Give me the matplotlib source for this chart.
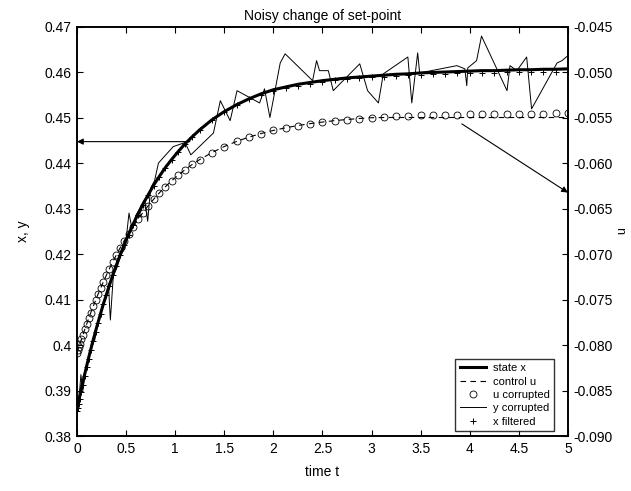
import matplotlib
matplotlib.use('Agg')
import matplotlib.pyplot as plt

plt.rcParams['font.family'] = ['Liberation Sans', 'DejaVu Sans']

# common solver time grid
t = [0.000, 0.010, 0.020, 0.030, 0.045, 0.060, 0.080, 0.100, 0.120, 0.140,
     0.165, 0.190, 0.215, 0.240, 0.270, 0.300, 0.330, 0.365, 0.400, 0.440,
     0.480, 0.525, 0.570, 0.620, 0.670, 0.725, 0.780, 0.840, 0.900, 0.965,
     1.030, 1.100, 1.175, 1.250, 1.375, 1.500, 1.625, 1.750, 1.875, 2.000,
     2.125, 2.250, 2.375, 2.500, 2.625, 2.750, 2.875, 3.000, 3.125, 3.250,
     3.375, 3.500, 3.625, 3.750, 3.875, 4.000, 4.125, 4.250, 4.375, 4.500,
     4.625, 4.750, 4.875, 5.000]

# state x (left axis)
x_state = [0.3860, 0.3870, 0.3880, 0.3890, 0.3905, 0.3919, 0.3937, 0.3955, 0.3973, 0.3990,
           0.4011, 0.4031, 0.4050, 0.4069, 0.4091, 0.4111, 0.4131, 0.4154, 0.4175, 0.4198,
           0.4220, 0.4243, 0.4265, 0.4287, 0.4309, 0.4330, 0.4351, 0.4371, 0.4390, 0.4408,
           0.4425, 0.4442, 0.4458, 0.4473, 0.4495, 0.4513, 0.4528, 0.4541, 0.4552, 0.4561,
           0.4567, 0.4573, 0.4577, 0.4581, 0.4584, 0.4587, 0.4589, 0.4591, 0.4593, 0.4595,
           0.4596, 0.4598, 0.4599, 0.4600, 0.4601, 0.4602, 0.4603, 0.4603, 0.4604, 0.4605,
           0.4605, 0.4606, 0.4606, 0.4607]

# filtered x (left axis)
x_filt = [0.3855, 0.3862, 0.3871, 0.3881, 0.3897, 0.3913, 0.3932, 0.3951, 0.3970, 0.3988,
          0.4009, 0.4029, 0.4049, 0.4068, 0.4090, 0.4110, 0.4130, 0.4153, 0.4174, 0.4197,
          0.4219, 0.4242, 0.4264, 0.4286, 0.4308, 0.4329, 0.4350, 0.4370, 0.4389, 0.4407,
          0.4424, 0.4441, 0.4457, 0.4472, 0.4494, 0.4512, 0.4527, 0.4540, 0.4550, 0.4559,
          0.4565, 0.4570, 0.4574, 0.4579, 0.4582, 0.4585, 0.4587, 0.4589, 0.4590, 0.4592,
          0.4593, 0.4594, 0.4595, 0.4596, 0.4597, 0.4597, 0.4598, 0.4598, 0.4599, 0.4599,
          0.4600, 0.4600, 0.4600, 0.4601]

# corrupted u (right axis)
u_corr = [-0.08090, -0.08056, -0.08022, -0.07988, -0.07939, -0.07890, -0.07827, -0.07766, -0.07706, -0.07647,
          -0.07576, -0.07508, -0.07441, -0.07377, -0.07303, -0.07231, -0.07162, -0.07085, -0.07012, -0.06932,
          -0.06856, -0.06776, -0.06700, -0.06620, -0.06546, -0.06470, -0.06399, -0.06327, -0.06261, -0.06194,
          -0.06134, -0.06074, -0.06015, -0.05962, -0.05885, -0.05819, -0.05763, -0.05716, -0.05676, -0.05642,
          -0.05613, -0.05588, -0.05567, -0.05550, -0.05534, -0.05522, -0.05511, -0.05502, -0.05494, -0.05487,
          -0.05482, -0.05477, -0.05473, -0.05470, -0.05467, -0.05464, -0.05462, -0.05460, -0.05459, -0.05458,
          -0.05457, -0.05456, -0.05455, -0.05455]

# control u (right axis)
u_ctrl = [-0.08090, -0.08056, -0.08022, -0.07988, -0.07939, -0.07890, -0.07827, -0.07766, -0.07706, -0.07647,
          -0.07576, -0.07508, -0.07441, -0.07377, -0.07303, -0.07231, -0.07162, -0.07085, -0.07012, -0.06932,
          -0.06856, -0.06776, -0.06700, -0.06620, -0.06546, -0.06470, -0.06399, -0.06327, -0.06261, -0.06194,
          -0.06134, -0.06074, -0.06015, -0.05962, -0.05885, -0.05819, -0.05763, -0.05716, -0.05676, -0.05642,
          -0.05613, -0.05588, -0.05567, -0.05550, -0.05534, -0.05522, -0.05511, -0.05502, -0.05500, -0.05500,
          -0.05500, -0.05500, -0.05500, -0.05500, -0.05500, -0.05500, -0.05500, -0.05500, -0.05500, -0.05500,
          -0.05500, -0.05500, -0.05500, -0.05500]

# corrupted measurement y (left axis)
y_t = [0.00, 0.02, 0.04, 0.06, 0.09, 0.12, 0.15, 0.18, 0.21, 0.24,
       0.27, 0.30, 0.32, 0.34, 0.37, 0.41, 0.45, 0.49, 0.53, 0.56,
       0.60, 0.64, 0.69, 0.72, 0.75, 0.79, 0.83, 0.98, 1.10, 1.16,
       1.39, 1.46, 1.56, 1.63, 1.86, 1.91, 1.965, 2.07, 2.12, 2.40,
       2.44, 2.47, 2.56, 2.61, 2.88, 2.96, 3.07, 3.12, 3.37, 3.41,
       3.47, 3.49, 3.87, 3.95, 3.97, 3.98, 4.07, 4.12, 4.38, 4.41,
       4.48, 4.58, 4.63, 4.89, 4.94, 5.00]
y_corr = [0.3868, 0.3880, 0.3935, 0.3900, 0.3950, 0.3968, 0.4005, 0.4010, 0.4048, 0.4062,
          0.4095, 0.4110, 0.4135, 0.4055, 0.4152, 0.4172, 0.4200, 0.4212, 0.4290, 0.4255,
          0.4285, 0.4300, 0.4320, 0.4272, 0.4345, 0.4361, 0.4400, 0.4436, 0.4445, 0.4418,
          0.4466, 0.4537, 0.4493, 0.4559, 0.4532, 0.4563, 0.4500, 0.4620, 0.4640, 0.4581,
          0.4625, 0.4603, 0.4603, 0.4559, 0.4618, 0.4559, 0.4532, 0.4596, 0.4633, 0.4532,
          0.4642, 0.4598, 0.4614, 0.4607, 0.4570, 0.4609, 0.4625, 0.4679, 0.4559, 0.4614,
          0.4603, 0.4633, 0.4519, 0.4620, 0.4625, 0.4636]

x_ticks = [0, 0.5, 1, 1.5, 2, 2.5, 3, 3.5, 4, 4.5, 5]
x_tick_labels = ['0', '0.5', '1', '1.5', '2', '2.5', '3', '3.5', '4', '4.5', '5']
left_ticks = [0.38, 0.39, 0.40, 0.41, 0.42, 0.43, 0.44, 0.45, 0.46, 0.47]
left_tick_labels = ['0.38', '0.39', '0.4', '0.41', '0.42', '0.43', '0.44', '0.45', '0.46', '0.47']
right_ticks = [-0.090, -0.085, -0.080, -0.075, -0.070, -0.065, -0.060, -0.055, -0.050, -0.045]
right_tick_labels = ['-0.090', '-0.085', '-0.080', '-0.075', '-0.070',
                     '-0.065', '-0.060', '-0.055', '-0.050', '-0.045']

FS = 10

fig = plt.figure(figsize=(6.31, 4.91), dpi=100)
ax = fig.add_axes([0.122, 0.112, 0.778, 0.834])
ax2 = ax.twinx()

h_state, = ax.plot(t, x_state, color='black', lw=2.2, label='state x')
h_y, = ax.plot(y_t, y_corr, color='black', lw=0.7, label='y corrupted')
h_filt, = ax.plot(t, x_filt, ls='none', marker='+', ms=5, mew=0.7,
                  color='black', label='x filtered')
h_ctrl, = ax2.plot(t, u_ctrl, color='black', lw=0.8, ls=(0, (5, 4)), label='control u')
h_corr, = ax2.plot(t, u_corr, ls='none', marker='o', ms=5, mfc='none',
                   mec='black', mew=0.6, label='u corrupted')

ax.set_xlim(0, 5)
ax.set_ylim(0.38, 0.47)
ax2.set_ylim(-0.090, -0.045)
ax.set_xticks(x_ticks)
ax.set_xticklabels(x_tick_labels)
ax.set_yticks(left_ticks)
ax.set_yticklabels(left_tick_labels)
ax2.set_yticks(right_ticks)
ax2.set_yticklabels(right_tick_labels)

ax.tick_params(direction='in', top=True, right=False, length=4, width=0.8,
               labelsize=FS, pad=4)
ax2.tick_params(direction='in', length=4, width=0.8, labelsize=FS, pad=4)
for a in (ax, ax2):
    for s in a.spines.values():
        s.set_linewidth(1.2)

ax.set_title('Noisy change of set-point', fontsize=FS, pad=5)
ax.set_xlabel('time t', fontsize=FS, labelpad=7)
ax.set_ylabel('x, y', fontsize=FS, labelpad=10)
# right axis label, squeezed against the figure edge
fig.text(622 / 631, 1 - 231 / 491, 'u', rotation=90, fontsize=9,
         ha='center', va='center')

ax.annotate('', xy=(0.0, 0.4447), xytext=(1.15, 0.4447),
            arrowprops=dict(arrowstyle='-|>', color='black', lw=0.8,
                            mutation_scale=9, shrinkA=0, shrinkB=0))
ax.annotate('', xy=(5.0, 0.4335), xytext=(3.92, 0.4486),
            arrowprops=dict(arrowstyle='-|>', color='black', lw=0.8,
                            mutation_scale=9, shrinkA=0, shrinkB=0))

leg = ax2.legend(handles=[h_state, h_ctrl, h_corr, h_y, h_filt],
                 loc='lower right', bbox_to_anchor=(0.972, 0.012),
                 borderaxespad=0, fontsize=8, frameon=True, fancybox=False,
                 handlelength=2.4, handletextpad=0.6, labelspacing=0.3,
                 borderpad=0.4)
leg.get_frame().set_edgecolor('black')
leg.get_frame().set_linewidth(1.0)

fig.savefig('out.png', dpi=100)
